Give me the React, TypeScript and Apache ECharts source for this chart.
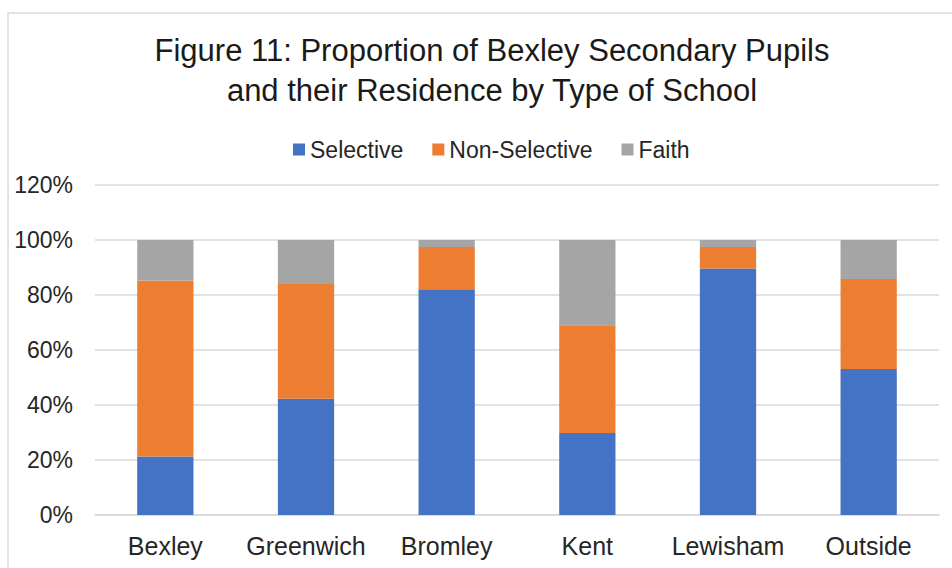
import React, { useEffect, useRef } from "react";
import * as echarts from "echarts";

const categories = ["Bexley", "Greenwich", "Bromley", "Kent", "Lewisham", "Outside"];
const selective = [21.3, 42.3, 82.1, 29.8, 89.6, 53.1];
const nonSelective = [64.0, 41.7, 15.4, 39.2, 7.9, 32.7];
const faith = [14.7, 16.0, 2.5, 31.0, 2.5, 14.2];

const FONT = "'Liberation Sans', Arial, sans-serif";
const LABEL = "#262626";

export default function App() {
  const ref = useRef<HTMLDivElement>(null);

  useEffect(() => {
    document.body.style.margin = "0";
    if (!ref.current) return;
    const chart = echarts.init(ref.current, null, { renderer: "svg" });
    chart.setOption({
      animation: false,
      backgroundColor: "#ffffff",
      textStyle: { fontFamily: FONT },
      title: {
        text: "Figure 11: Proportion of Bexley Secondary Pupils\nand their Residence by Type of School",
        left: 487,
        textAlign: "center",
        top: 25,
        textStyle: {
          fontFamily: FONT,
          fontSize: 31,
          fontWeight: "normal",
          color: "#1a1a1a",
          lineHeight: 40,
        },
      },
      legend: {
        top: 133,
        left: 288,
        icon: "rect",
        itemWidth: 12,
        itemHeight: 12,
        itemGap: 29,
        textStyle: { fontFamily: FONT, fontSize: 23, color: LABEL },
        data: ["Selective", "Non-Selective", "Faith"],
      },
      graphic: [
        {
          type: "rect",
          shape: { x: 8, y: 13, width: 1000, height: 700 },
          style: { fill: "none", stroke: "#d9d9d9", lineWidth: 1.5 },
          silent: true,
        },
      ],
      grid: { left: 95, right: 13, top: 185, bottom: 53, containLabel: false },
      xAxis: {
        type: "category",
        data: categories,
        axisTick: { show: false },
        axisLine: { show: true, lineStyle: { color: "#d9d9d9", width: 1.5 } },
        axisLabel: {
          interval: 0,
          fontFamily: FONT,
          fontSize: 25,
          color: LABEL,
          margin: 18,
        },
      },
      yAxis: {
        type: "value",
        min: 0,
        max: 120,
        interval: 20,
        axisLine: { show: false },
        axisTick: { show: false },
        splitLine: { lineStyle: { color: "#d9d9d9", width: 1.5 } },
        axisLabel: {
          fontFamily: FONT,
          fontSize: 23,
          color: LABEL,
          margin: 22,
          formatter: (v: number) => `${v}%`,
        },
      },
      series: [
        {
          name: "Selective",
          type: "bar",
          stack: "total",
          barWidth: "40%",
          data: selective,
          itemStyle: { color: "#4472c4" },
        },
        {
          name: "Non-Selective",
          type: "bar",
          stack: "total",
          data: nonSelective,
          itemStyle: { color: "#ed7d31" },
        },
        {
          name: "Faith",
          type: "bar",
          stack: "total",
          data: faith,
          itemStyle: { color: "#a5a5a5" },
        },
      ],
    });
    return () => chart.dispose();
  }, []);

  return (
    <div
      ref={ref}
      style={{ position: "absolute", left: 0, top: 0, width: 952, height: 568 }}
    />
  );
}
